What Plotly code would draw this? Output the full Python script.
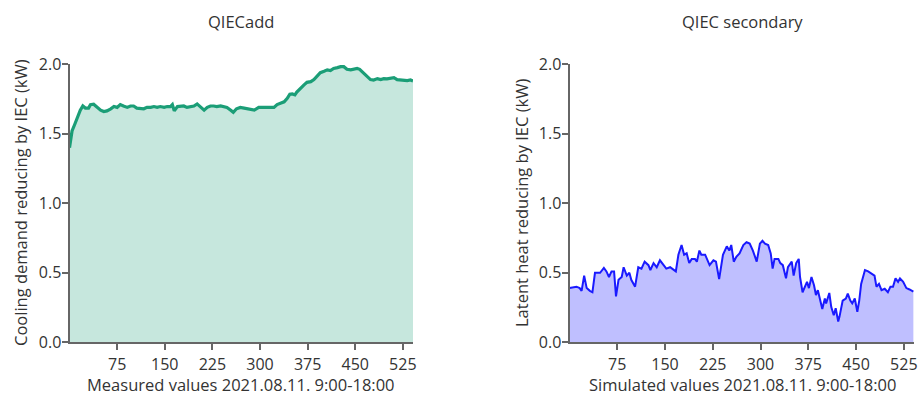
import plotly.graph_objects as go

# Measured QIECadd (kW) vs minute index
meas_x = [0, 4, 8, 13, 17, 21, 25, 30, 33, 38, 43, 49, 54, 59, 65, 70, 75, 80, 85, 91, 96, 101, 106, 112,
          117, 122, 128, 133, 138, 143, 149, 154, 159, 162, 165, 170, 175, 180, 185, 190, 196, 201, 205, 212,
          217, 222, 227, 232, 238, 244, 248, 254, 258, 263, 269, 275, 280, 285, 291, 298, 306, 311, 316, 322,
          327, 332, 338, 343, 347, 351, 355, 358, 364, 369, 374, 380, 385, 390, 395, 401, 406, 411, 416, 422,
          427, 432, 437, 443, 448, 453, 457, 464, 469, 474, 479, 485, 490, 495, 500, 506, 511, 516, 521, 527,
          532, 537, 541]
meas_y = [1.40, 1.52, 1.565, 1.625, 1.67, 1.70, 1.685, 1.685, 1.71, 1.713, 1.69, 1.67, 1.66, 1.665, 1.68, 1.696,
          1.69, 1.71, 1.70, 1.69, 1.70, 1.70, 1.685, 1.685, 1.68, 1.69, 1.69, 1.696, 1.69, 1.696, 1.69, 1.696,
          1.696, 1.71, 1.665, 1.696, 1.696, 1.70, 1.69, 1.696, 1.70, 1.715, 1.696, 1.67, 1.69, 1.70, 1.70, 1.696,
          1.70, 1.696, 1.69, 1.67, 1.655, 1.68, 1.69, 1.685, 1.68, 1.68, 1.67, 1.69, 1.69, 1.69, 1.685, 1.69,
          1.71, 1.72, 1.73, 1.755, 1.785, 1.787, 1.78, 1.80, 1.83, 1.85, 1.87, 1.875, 1.89, 1.915, 1.94, 1.95,
          1.96, 1.955, 1.97, 1.976, 1.983, 1.983, 1.964, 1.96, 1.966, 1.97, 1.964, 1.935, 1.91, 1.89, 1.887,
          1.897, 1.89, 1.897, 1.895, 1.90, 1.904, 1.89, 1.887, 1.883, 1.883, 1.887, 1.88]

# Simulated QIEC secondary (kW) vs minute index
sim_x = [0, 11, 16, 19, 23, 27, 32, 36, 40, 48, 54, 58, 62, 66, 70, 73, 77, 82, 85, 90, 94, 97, 103, 108,
         113, 118, 124, 127, 132, 137, 142, 148, 152, 158, 163, 167, 171, 176, 180, 184, 188, 192, 197, 200,
         204, 207, 213, 216, 220, 226, 230, 235, 241, 247, 251, 254, 258, 262, 267, 273, 278, 283, 288, 294,
         296, 299, 303, 307, 312, 316, 319, 322, 328, 331, 335, 340, 343, 349, 352, 356, 360, 362, 366, 370,
         373, 376, 380, 384, 387, 390, 394, 397, 401, 403, 408, 411, 415, 418, 422, 424, 429, 434, 437, 441,
         444, 448, 452, 455, 458, 464, 469, 474, 479, 482, 486, 490, 495, 500, 504, 508, 512, 516, 519, 524,
         529, 534, 540]
sim_y = [0.39, 0.40, 0.39, 0.37, 0.48, 0.39, 0.37, 0.36, 0.50, 0.50, 0.535, 0.51, 0.47, 0.51, 0.51, 0.33,
         0.45, 0.47, 0.54, 0.48, 0.50, 0.45, 0.40, 0.54, 0.53, 0.58, 0.555, 0.52, 0.57, 0.54, 0.59, 0.555,
         0.53, 0.54, 0.52, 0.51, 0.63, 0.70, 0.63, 0.64, 0.57, 0.60, 0.60, 0.58, 0.66, 0.63, 0.63, 0.60,
         0.555, 0.59, 0.58, 0.455, 0.63, 0.69, 0.66, 0.70, 0.58, 0.615, 0.64, 0.70, 0.72, 0.71, 0.66, 0.58,
         0.64, 0.71, 0.73, 0.71, 0.70, 0.64, 0.53, 0.60, 0.60, 0.57, 0.555, 0.46, 0.54, 0.58, 0.48, 0.57,
         0.60, 0.47, 0.36, 0.40, 0.435, 0.39, 0.47, 0.41, 0.34, 0.375, 0.30, 0.24, 0.315, 0.28, 0.355, 0.255,
         0.195, 0.245, 0.15, 0.185, 0.30, 0.315, 0.35, 0.30, 0.28, 0.315, 0.22, 0.30, 0.42, 0.52, 0.51, 0.495,
         0.48, 0.40, 0.42, 0.375, 0.385, 0.36, 0.40, 0.40, 0.46, 0.435, 0.46, 0.435, 0.39, 0.38, 0.365]

x_ticks = [75, 150, 225, 300, 375, 450, 525]
y_ticks = [0.0, 0.5, 1.0, 1.5, 2.0]

FONT = "Open Sans"
TXT = "#333333"
FS = 16

fig = go.Figure()
fig.add_trace(go.Scatter(x=meas_x, y=meas_y, mode="lines", fill="tozeroy",
                         line=dict(color="#1b9e77", width=3.2), fillcolor="rgba(27,158,119,0.25)",
                         xaxis="x", yaxis="y", showlegend=False))
fig.add_trace(go.Scatter(x=sim_x, y=sim_y, mode="lines", fill="tozeroy",
                         line=dict(color="#1a1aff", width=2), fillcolor="rgba(0,0,255,0.25)",
                         xaxis="x2", yaxis="y2", showlegend=False))

W, H = 919, 397
yd = [1 - 342.3 / H, 1 - 64.3 / H]
common_x = dict(range=[0, 541], tickvals=x_ticks, showgrid=False, zeroline=False, showline=True,
                linecolor="#666666", linewidth=2, ticks="outside", ticklen=6, tickcolor="#666666",
                tickwidth=1.5, tickfont=dict(family=FONT, size=FS, color=TXT), automargin=False)
common_y = dict(range=[0, 2], tickvals=y_ticks, tickformat=".1f", showgrid=False, zeroline=False,
                showline=True, linecolor="#666666", linewidth=2, ticks="outside", ticklen=6,
                tickcolor="#666666", tickwidth=1.5, tickfont=dict(family=FONT, size=FS, color=TXT),
                domain=yd, automargin=False, ticklabelstandoff=-3)

fig.update_layout(
    width=W, height=H, margin=dict(l=0, r=0, t=0, b=0, pad=0), autosize=False,
    plot_bgcolor="white", paper_bgcolor="white",
    xaxis=dict(domain=[69.5 / W, 413 / W], anchor="y", **common_x),
    yaxis=dict(anchor="x", **common_y),
    xaxis2=dict(domain=[569.5 / W, 914 / W], anchor="y2", **common_x),
    yaxis2=dict(anchor="x2", **common_y),
    font=dict(family=FONT, color=TXT),
)

def ann(text, xpx, ypx, angle=0, size=16.5):
    fig.add_annotation(text=text, x=xpx / W, y=1 - ypx / H, xref="paper", yref="paper",
                       showarrow=False, textangle=angle, xanchor="center", yanchor="middle",
                       font=dict(family=FONT, size=size, color=TXT))

ann("QIECadd", 241, 22)
ann("QIEC secondary", 742, 22)
ann("Measured values 2021.08.11. 9:00-18:00", 241, 384)
ann("Simulated values 2021.08.11. 9:00-18:00", 742, 384)
ann("Cooling demand reducing by IEC (kW)", 20, 203, angle=-90)
ann("Latent heat reducing by IEC (kW)", 521, 203, angle=-90)

fig.write_html(
    "out.html",
    config={"displayModeBar": False},
    post_script="document.body.style.margin='0';document.body.style.padding='0';"
                "document.body.style.overflow='hidden';"
                "document.documentElement.style.overflow='hidden';",
)
